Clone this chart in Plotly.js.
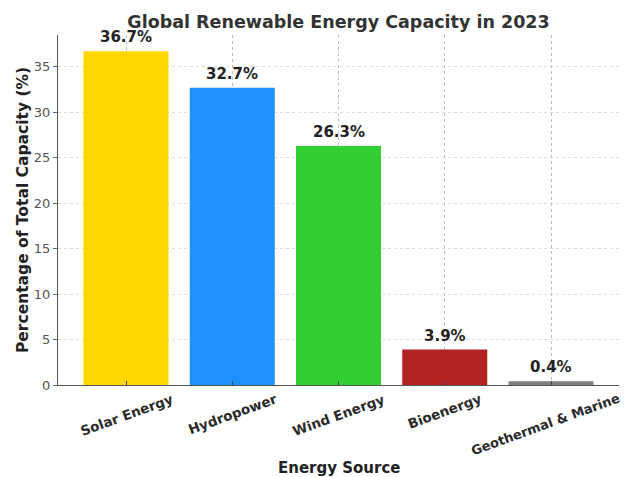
<!DOCTYPE html>
<html>
<head>
<meta charset="utf-8">
<script src="https://cdn.plot.ly/plotly-3.0.1.min.js"></script>
<style>html,body{margin:0;padding:0;background:#fff;}#chart{width:626px;height:477px;}</style>
</head>
<body>
<div id="chart"></div>
<script>
const categories = ["Solar Energy", "Hydropower", "Wind Energy", "Bioenergy", "Geothermal & Marine"];
const capacityShare = [36.7, 32.7, 26.3, 3.9, 0.4];
const barColors = ["#FFD700", "#1E90FF", "#32CD32", "#B22222", "#808080"];
const valueLabels = capacityShare.map(v => v.toFixed(1) + "%");
const yTickValues = [0, 5, 10, 15, 20, 25, 30, 35];

const FONT = "DejaVu Sans, Verdana, sans-serif";
const idx = categories.map((c, i) => i);
const X_RANGE = [-0.64, 4.64];
const Y_RANGE = [0, 38.5];

const bars = {
  type: "bar",
  x: idx,
  y: capacityShare,
  width: 0.8,
  marker: { color: barColors, line: { width: 0 } },
  hoverinfo: "x+y",
  showlegend: false
};
// empty trace that only carries the overlay axes (vertical grid drawn above bars)
const gridCarrier = {
  type: "scatter", mode: "markers", x: [], y: [],
  xaxis: "x2", yaxis: "y2", showlegend: false, hoverinfo: "skip"
};

const annotations = [];
idx.forEach(i => {
  const last = i === idx.length - 1;
  annotations.push({
    x: i, y: capacityShare[i], xref: "x", yref: "y",
    text: valueLabels[i], showarrow: false,
    xanchor: "center", yanchor: "bottom", yshift: 3,
    font: { family: FONT, size: 15, color: "#222", weight: "bold" }
  });
  annotations.push({
    x: i, y: 0, xref: "x", yref: "paper",
    text: categories[i], showarrow: false, textangle: -20,
    xanchor: "center", yanchor: "top", yshift: -3, xshift: last ? -6 : 0,
    font: { family: FONT, size: last ? 13 : 13.5, color: "#2a2a2a", weight: "bold" }
  });
});
annotations.push({
  x: 0.5, y: 0, xref: "paper", yref: "paper",
  text: "Energy Source", showarrow: false,
  xanchor: "center", yanchor: "middle", yshift: -83,
  font: { family: FONT, size: 15, color: "#222", weight: "bold" }
});

const gridStyle = { showgrid: true, gridcolor: "#dcdcdc", griddash: "dot", gridwidth: 1 };

const layout = {
  width: 626, height: 477,
  margin: { l: 58, r: 7, t: 35, b: 92 },
  paper_bgcolor: "#fff", plot_bgcolor: "#fff",
  title: {
    text: "Global Renewable Energy Capacity in 2023",
    font: { family: FONT, size: 17.5, color: "#333", weight: "bold" },
    x: 0.5, xref: "paper", xanchor: "center", y: 0.955, yanchor: "middle"
  },
  xaxis: Object.assign({
    range: X_RANGE,
    tickvals: idx, showticklabels: false,
    ticks: "inside", ticklen: 4, tickcolor: "#444",
    showline: true, linecolor: "#555", linewidth: 1.2,
    zeroline: false, fixedrange: true
  }, gridStyle),
  yaxis: Object.assign({
    range: Y_RANGE,
    tickvals: yTickValues,
    ticks: "outside", ticklen: 4, tickcolor: "#666",
    tickfont: { family: FONT, size: 13, color: "#555" },
    showline: true, linecolor: "#555", linewidth: 1.2,
    zeroline: false, fixedrange: true,
    title: {
      text: "Percentage of Total Capacity (%)",
      font: { family: FONT, size: 15.5, color: "#222", weight: "bold" },
      standoff: 1
    }
  }, gridStyle),
  xaxis2: {
    overlaying: "x", range: X_RANGE, tickvals: idx,
    showticklabels: false, ticks: "", showline: false, zeroline: false,
    showgrid: true, gridcolor: "rgba(0,0,0,0.13)", griddash: "dot", gridwidth: 1,
    fixedrange: true
  },
  yaxis2: {
    overlaying: "y", range: Y_RANGE, showgrid: false, showticklabels: false,
    ticks: "", showline: false, zeroline: false, fixedrange: true
  },
  annotations: annotations
};

Plotly.newPlot("chart", [bars, gridCarrier], layout, { displayModeBar: false, staticPlot: true });
</script>
</body>
</html>
